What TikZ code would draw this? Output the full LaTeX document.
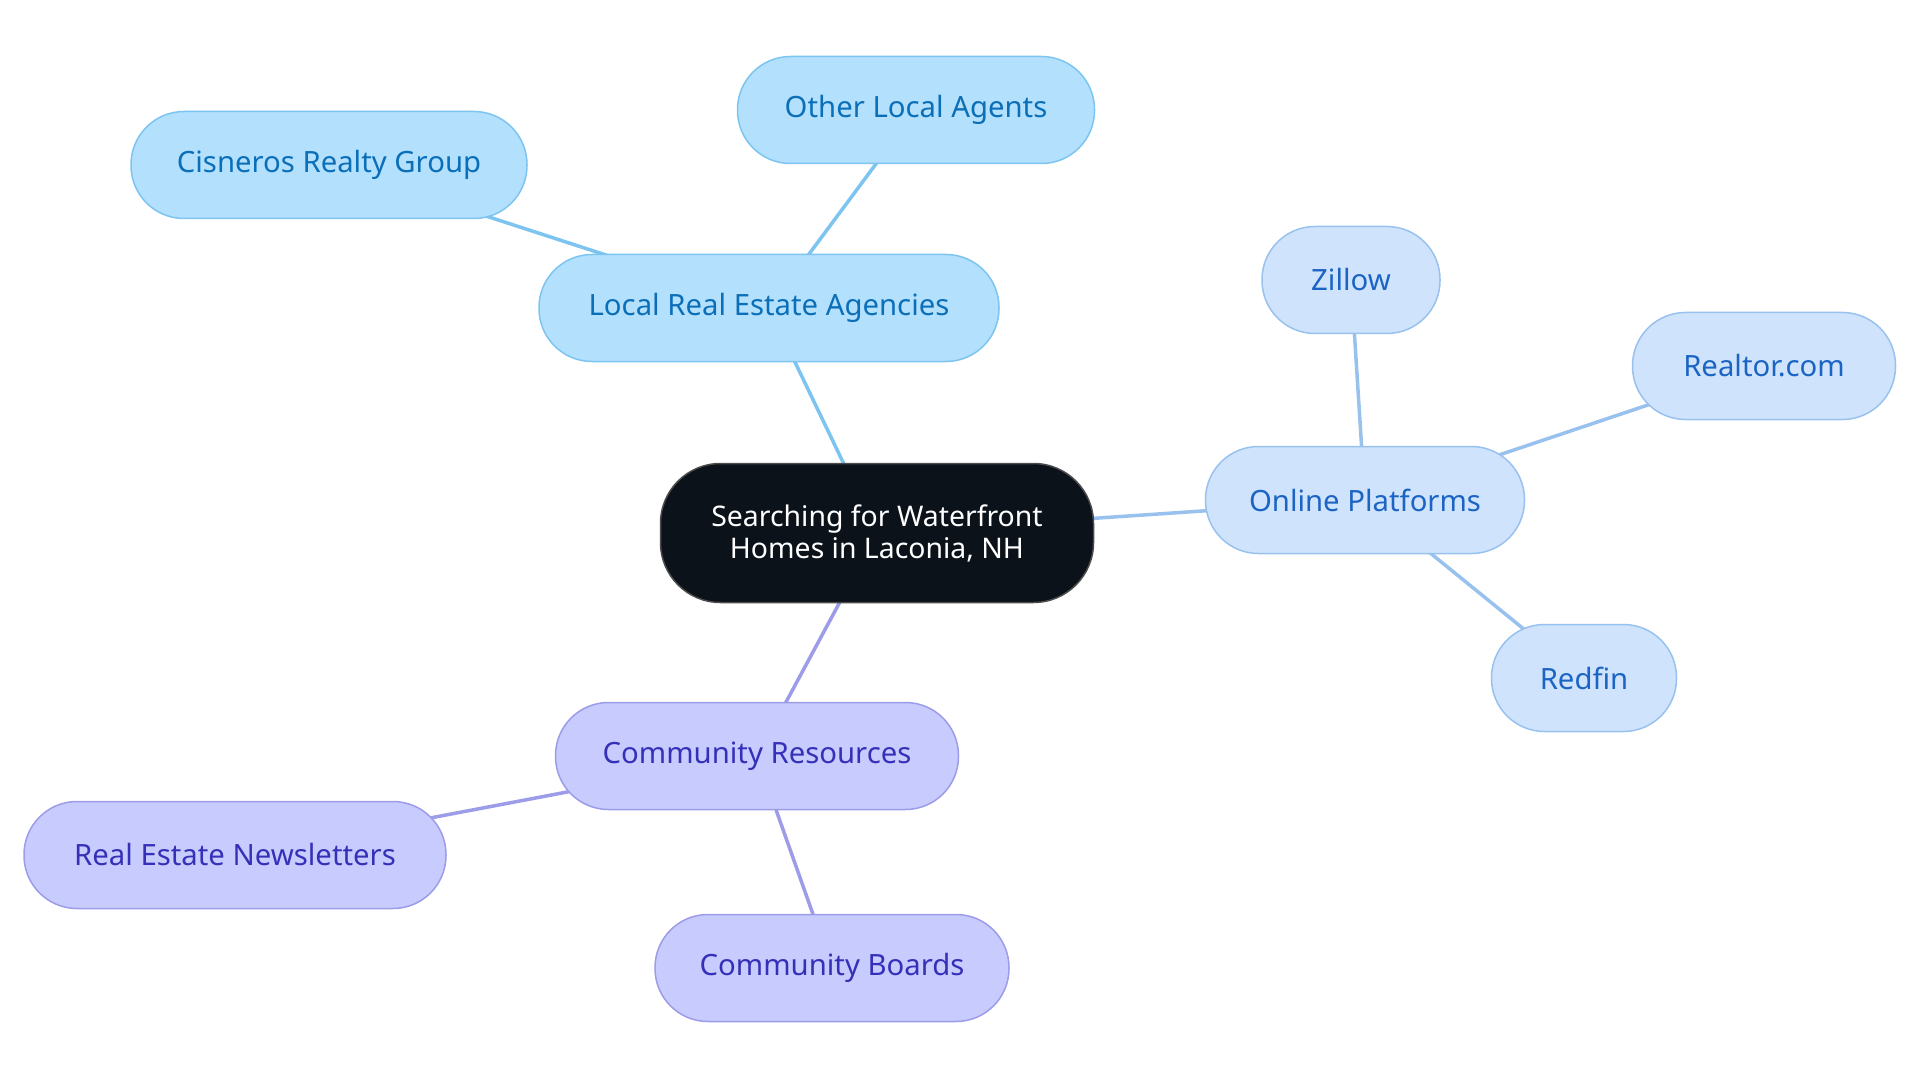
\documentclass[tikz,border=0pt]{standalone}
\usepackage{fontspec}
\setmainfont{Noto Sans}
\usetikzlibrary{positioning, backgrounds}
\definecolor{agencyfill}{HTML}{B3E0FD}
\definecolor{agencyline}{HTML}{7DC4F0}
\definecolor{agencytext}{HTML}{0B6FB8}
\definecolor{onlinefill}{HTML}{CFE4FC}
\definecolor{onlineline}{HTML}{98C1EE}
\definecolor{onlinetext}{HTML}{1C64C4}
\definecolor{commfill}{HTML}{C8CBFE}
\definecolor{commline}{HTML}{9C9CE8}
\definecolor{commtext}{HTML}{3530B8}
\definecolor{rootfill}{HTML}{0C121A}
\tikzset{
  pill/.style={rounded corners=53pt, minimum height=107pt, inner xsep=40pt,
    line width=1.5pt, font=\fontsize{29.3}{32}\selectfont},
  agency/.style={pill, fill=agencyfill, draw=agencyline, text=agencytext},
  online/.style={pill, fill=onlinefill, draw=onlineline, text=onlinetext},
  comm/.style={pill, fill=commfill, draw=commline, text=commtext},
  link/.style={line width=3.5pt}
}
\begin{document}
\begin{tikzpicture}[x=1pt,y=-1pt]
\useasboundingbox (0,0) rectangle (1920,1083);
\node[pill, rounded corners=60pt, minimum height=139pt, minimum width=433pt, fill=rootfill, draw=black!70, text=white, align=center, font=\fontsize{28.4}{32}\selectfont] (root) at (877,533) {Searching for Waterfront\\Homes in Laconia, NH};
\node[agency, minimum width=460pt] (agencies) at (769,308) {Local Real Estate Agencies};
\node[agency, minimum width=357pt] (others) at (916,110) {Other Local Agents};
\node[agency, minimum width=396pt] (cisneros) at (329,165) {Cisneros Realty Group};
\node[online, minimum width=319pt] (online) at (1365,500) {Online Platforms};
\node[online, minimum width=178pt] (zillow) at (1351,280) {Zillow};
\node[online, minimum width=263pt] (realtor) at (1764,366) {Realtor.com};
\node[online, minimum width=185pt] (redfin) at (1584,678) {Redfin};
\node[comm, minimum width=403pt] (community) at (757,756) {Community Resources};
\node[comm, minimum width=422pt] (newsletters) at (235,855) {Real Estate Newsletters};
\node[comm, minimum width=354pt] (boards) at (832,968) {Community Boards};
% connectors behind the pills
\begin{scope}[on background layer]
\draw[link, agencyline] (root.center) -- (agencies.center);
\draw[link, agencyline] (agencies.center) -- (others.center);
\draw[link, agencyline] (agencies.center) -- (cisneros.center);
\draw[link, onlineline] (root.center) -- (online.center);
\draw[link, onlineline] (online.center) -- (zillow.center);
\draw[link, onlineline] (online.center) -- (realtor.center);
\draw[link, onlineline] (online.center) -- (redfin.center);
\draw[link, commline] (root.center) -- (community.center);
\draw[link, commline] (community.center) -- (newsletters.center);
\draw[link, commline] (community.center) -- (boards.center);
\end{scope}
\end{tikzpicture}
\end{document}
